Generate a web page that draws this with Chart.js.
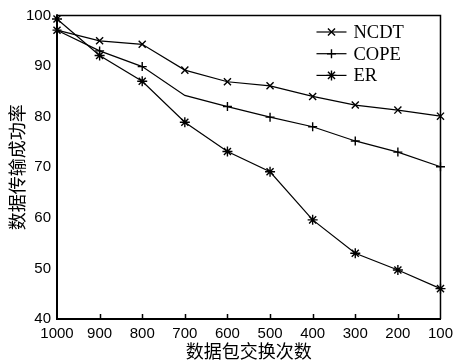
<!DOCTYPE html>
<html>
<head>
<meta charset="utf-8">
<script src="https://cdn.jsdelivr.net/npm/chart.js@4.4.0/dist/chart.umd.min.js"></script>
<style>
    html, body { margin: 0; padding: 0; background: #fff; }
    #wrap { width: 459px; height: 360px; }
</style>
</head>
<body>
<div id="wrap"><canvas id="c" width="459" height="360"></canvas></div>
<script>
const xLabels = ['1000', '900', '800', '700', '600', '500', '400', '300', '200', '100'];
const yTicks = [40, 50, 60, 70, 80, 90, 100];
const seriesNames = ['NCDT', 'COPE', 'ER'];
const ncdt = [97.1, 95.0, 94.3, 89.2, 86.9, 86.1, 84.0, 82.3, 81.3, 80.1];
const cope = [97.1, 93.0, 89.9, 84.2, 82.0, 79.9, 78.0, 75.2, 73.0, 70.1];
const er = [99.3, 92.1, 87.0, 78.9, 73.1, 69.1, 59.6, 53.0, 49.7, 46.0];
// the COPE curve has no marker at 700
const copeMarked = [1, 1, 1, 0, 1, 1, 1, 1, 1, 1];

const tickFont = { family: 'Liberation Sans', size: 15 };
const cjkFont = { family: 'Noto Sans CJK SC', size: 18, lineHeight: 1 };

function lineSet(label, data, style, radius) {
    return {
        label,
        data,
        borderColor: '#000',
        backgroundColor: '#000',
        borderWidth: 1.2,
        tension: 0,
        pointStyle: style,
        pointRadius: radius,
        pointBorderWidth: 1.4,
        pointBorderColor: '#000',
        pointHoverRadius: radius,
        clip: false,
    };
}

// box frame, inward x ticks and the legend
const framePlugin = {
    id: 'frame',
    afterDraw(chart) {
        const { ctx, chartArea: a } = chart;
        const xs = chart.scales.x;
        ctx.save();
        ctx.strokeStyle = '#000';
        ctx.lineWidth = 1.5;
        ctx.beginPath();
        ctx.moveTo(a.left, a.top);
        ctx.lineTo(a.right, a.top);
        ctx.lineTo(a.right, a.bottom);
        ctx.stroke();

        ctx.beginPath();
        for (let i = 1; i < xLabels.length - 1; i++) {
            const px = Math.round(xs.getPixelForTick(i)) + 0.5;
            ctx.moveTo(px, a.bottom);
            ctx.lineTo(px, a.bottom - 5);
        }
        ctx.stroke();

        chart.data.datasets.forEach((ds, i) => {
            const y = a.top + 16.5 + i * 21.7;
            const x0 = a.right - 124, x1 = a.right - 94;
            ctx.strokeStyle = '#000';
            ctx.lineWidth = 1.2;
            ctx.beginPath();
            ctx.moveTo(x0, y);
            ctx.lineTo(x1, y);
            ctx.stroke();
            ctx.lineWidth = 1.4;
            Chart.helpers.drawPoint(ctx, {
                pointStyle: ds.pointStyle, radius: i === 1 ? 4.5 : 5, rotation: 0, borderWidth: 1.4
            }, (x0 + x1) / 2, y);
            ctx.fillStyle = '#000';
            ctx.font = '18.5px "Liberation Serif"';
            ctx.textAlign = 'left';
            ctx.textBaseline = 'middle';
            ctx.fillText(ds.label, a.right - 87, y + 1);
        });
        ctx.restore();
    }
};

new Chart(document.getElementById('c'), {
    type: 'line',
    data: {
        labels: xLabels,
        datasets: [
            lineSet(seriesNames[0], ncdt, 'crossRot', 5),
            lineSet(seriesNames[1], cope, 'cross', copeMarked.map(m => m ? 4.5 : 0)),
            lineSet(seriesNames[2], er, 'star', 5),
        ]
    },
    options: {
        responsive: false,
        animation: false,
        layout: { padding: { top: 15.5, right: 17, left: 0, bottom: 0 } },
        plugins: { legend: { display: false }, tooltip: { enabled: false } },
        scales: {
            x: {
                type: 'category',
                offset: false,
                grid: { display: false, drawTicks: false },
                border: { display: true, color: '#000', width: 2 },
                ticks: { color: '#000', font: tickFont, padding: 6, maxRotation: 0, autoSkip: false },
                title: { display: true, text: '数据包交换次数', color: '#000', font: cjkFont, padding: 0 },
                afterFit(s) { s.height = 41; }
            },
            y: {
                min: 40,
                max: 100,
                grid: { display: false, drawTicks: false },
                border: { display: true, color: '#000', width: 2 },
                ticks: { color: '#000', font: tickFont, padding: 6 },
                afterBuildTicks(s) { s.ticks = yTicks.map(v => ({ value: v })); },
                title: { display: true, text: '数据传输成功率', color: '#000', font: cjkFont, padding: { top: 8, bottom: 0 } },
                afterFit(s) { s.width = 57; }
            }
        }
    },
    plugins: [framePlugin]
});
</script>
</body>
</html>
